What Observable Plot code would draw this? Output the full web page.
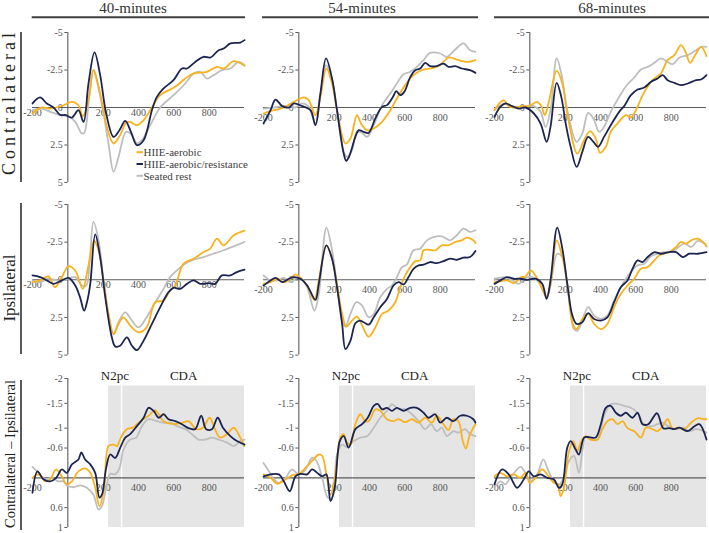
<!DOCTYPE html>
<html><head><meta charset="utf-8">
<script src="https://cdn.jsdelivr.net/npm/d3@7"></script>
<script src="https://cdn.jsdelivr.net/npm/@observablehq/plot@0.6"></script>
<style>
html,body{margin:0;padding:0;background:#fff;}
#root{position:relative;width:709px;height:533px;overflow:hidden;font-family:"Liberation Serif","Times New Roman",serif;}
#root svg{position:absolute;overflow:visible;}
</style></head>
<body><div id="root"></div>
<script>
// ---------- labels ----------
const columns = ["40-minutes", "54-minutes", "68-minutes"];
const rows = ["Contralateral", "Ipsilateral", "Contralateral \u2013 Ipsilateral"];
const conditions = ["HIIE-aerobic", "HIIE-aerobic/resistance", "Seated rest"];
const xTicks = [-200, 200, 400, 600, 800];
const yTicksWave = [-5, -2.5, 0, 2.5, 5];
const yTicksDiff = [-2, -1.5, -1, -0.6, 0.6, 1];
const windowNames = ["N2pc", "CDA"];
const n2pcWindow = [230, 303];
const cdaWindow = [311, 1000];

// ---------- data: [time (ms), amplitude (µV)] ----------
const contra40_aer = [[-200,0.4],[-147,0],[-100,0.07],[-34,-0.1],[23,-0.38],[60,-0.15],[85,0.58],[117,-0.5],[145,-2.5],[174,-1.4],[202,0.18],[221,1.3],[259,2.4],[296,1.84],[330,1.0],[353,0.96],[391,1.18],[429,0.84],[476,0],[523,-0.82],[608,-1.38],[665,-1.93],[712,-2.27],[787,-2.38],[844,-2.71],[882,-2.6],[939,-3.09],[1000,-2.78]];
const contra40_res = [[-200,-0.27],[-157,-0.67],[-119,-0.27],[-81,0],[-43,0.5],[-15,0.5],[23,0.67],[60,0.18],[89,0.96],[117,-1.6],[151,-3.67],[183,-2.16],[217,0.4],[259,1.96],[293,1.5],[325,0.89],[357,1.62],[391,2.51],[429,2.18],[476,0.18],[504,-0.71],[542,-1.27],[598,-1.82],[646,-2.6],[674,-2.6],[721,-3.04],[768,-3.38],[806,-3.33],[854,-3.82],[882,-3.93],[920,-4.27],[976,-4.33],[1000,-4.49]];
const contra40_rest = [[-200,0.18],[-147,0.07],[-100,0.29],[-43,0.5],[4,0.58],[42,0.96],[79,1.73],[93,1.69],[123,-0.93],[145,-2.49],[168,-1.6],[202,0.4],[230,2.4],[259,4.29],[287,3.29],[330,1.62],[363,1.84],[391,2.4],[419,2.18],[466,1.18],[523,0],[598,-0.82],[665,-1.6],[712,-2.27],[750,-2.38],[787,-1.93],[825,-2.16],[872,-2.49],[920,-2.6],[967,-3.04],[1000,-2.82]];

const contra54_aer = [[-200,0.4],[-141,0.18],[-85,0],[-28,-0.38],[28,-0.67],[56,-0.49],[94,0.51],[122,-0.71],[156,-2.6],[188,-1.6],[216,0.18],[264,2.4],[292,2.07],[329,0.51],[352,1.07],[386,1.51],[424,1.4],[471,0.96],[518,0.18],[555,-0.6],[602,-1.49],[649,-2.16],[696,-2.49],[743,-2.6],[800,-2.82],[847,-3.33],[903,-3.16],[950,-3.04],[1000,-3.16]];
const contra54_res = [[-200,1.07],[-160,0.18],[-132,-0.53],[-94,-0.09],[-56,0],[-28,-0.27],[19,-0.09],[66,0.18],[94,1.18],[122,-0.93],[154,-3.27],[188,-1.93],[216,0.18],[254,3.07],[268,3.55],[284,3.29],[320,1.96],[339,1.51],[367,1.62],[395,1.69],[433,0.73],[471,-0.04],[499,-0.16],[533,-0.71],[551,-1.09],[574,-0.82],[597,-1.04],[631,-2.04],[659,-2.49],[687,-2.6],[715,-2.98],[743,-2.76],[781,-2.76],[819,-2.93],[847,-2.71],[885,-2.76],[922,-2.6],[969,-2.49],[1000,-2.31]];
const contra54_rest = [[-200,0.07],[-141,0],[-85,-0.09],[-47,-0.09],[-19,0],[19,-0.27],[56,-0.04],[94,1.07],[122,-0.82],[154,-2.82],[188,-1.82],[216,0.18],[254,2.96],[273,3.29],[301,2.84],[329,1.62],[358,1.69],[386,1.96],[424,1.18],[471,-0.16],[518,-0.93],[555,-1.6],[593,-2.22],[631,-2.38],[668,-2.71],[706,-3.16],[743,-3.64],[800,-3.6],[838,-3.38],[885,-3.87],[932,-4.27],[969,-3.82],[1000,-3.71]];

const contra68_aer = [[-200,0.18],[-176,-0.22],[-148,-0.49],[-119,-0.09],[-81,0],[-44,-0.09],[-6,-0.09],[42,-0.38],[65,-0.1],[85,0.5],[108,-0.4],[152,-2.44],[184,-1.6],[212,0.4],[269,3.07],[307,2.18],[341,1.58],[373,2.07],[398,3.02],[430,2.62],[458,1.62],[496,1.07],[544,0.51],[572,0.67],[600,0.18],[648,-1.04],[695,-1.82],[742,-2.27],[780,-3.16],[818,-3.49],[856,-4.16],[884,-3.64],[907,-2.98],[941,-3.6],[970,-4.04],[1000,-3.42]];
const contra68_res = [[-200,0.62],[-167,-0.04],[-138,-0.27],[-100,-0.09],[-62,0.07],[-25,0],[23,0.4],[61,1.07],[95,2.29],[117,1.29],[152,-1.64],[178,-0.71],[203,1.07],[231,2.62],[265,3.96],[297,2.96],[330,1.96],[360,2.29],[386,2.62],[420,1.96],[458,1.18],[506,0.29],[534,-0.09],[572,-0.82],[610,-1.2],[648,-1.33],[686,-1.71],[723,-1.93],[752,-2.16],[780,-1.82],[818,-1.64],[856,-1.49],[894,-1.6],[941,-1.82],[970,-1.87],[1000,-2.16]];
const contra68_rest = [[-200,0.18],[-176,-0.09],[-138,-0.22],[-100,0],[-62,-0.04],[-25,-0.09],[23,-0.09],[61,0.29],[89,1.29],[117,0.18],[152,-3.27],[178,-2.27],[212,0.18],[265,2.29],[297,1.73],[330,0.36],[360,0.73],[392,1.62],[420,1.29],[458,0.29],[506,-0.71],[544,-1.42],[591,-2.0],[629,-2.53],[667,-2.71],[705,-2.98],[742,-3.27],[780,-3.04],[809,-2.89],[847,-3.33],[894,-3.49],[941,-3.82],[970,-4.04],[1000,-4.04]];

const ipsi40_aer = [[-200,0.16],[-157,0.04],[-110,-0.22],[-72,0.49],[-34,-0.18],[4,-0.91],[42,-0.62],[85,0.6],[111,-0.62],[149,-2.58],[174,-1.96],[202,0.04],[230,2.27],[259,3.6],[287,2.93],[315,2.49],[353,3.04],[400,3.49],[446,3.16],[495,1.49],[542,1.38],[579,0.71],[608,0.38],[655,-1.07],[712,-1.4],[768,-1.84],[806,-2.07],[844,-2.73],[882,-2.29],[939,-2.96],[1000,-3.27]];
const ipsi40_res = [[-200,-0.29],[-157,-0.18],[-119,0.04],[-81,0.27],[-34,0.04],[4,-0.13],[42,0.38],[70,1.2],[92,2.05],[110,1.4],[127,0.27],[155,-3.02],[183,-1.51],[212,1.16],[249,3.82],[268,4.42],[296,4.38],[334,3.82],[363,4.38],[391,4.67],[429,4.04],[476,2.93],[523,1.82],[570,0.82],[598,0.53],[636,0.6],[674,0.27],[712,0.04],[749,0.27],[797,0.22],[834,0.27],[872,-0.29],[920,-0.29],[957,-0.51],[1000,-0.67]];
const ipsi40_rest = [[-200,0.04],[-157,0.16],[-110,-0.07],[-53,0.04],[4,-0.07],[42,-0.18],[79,0.38],[104,0.38],[123,-1.07],[145,-3.84],[174,-2.62],[202,0.04],[230,2.27],[259,3.6],[287,2.82],[325,2.16],[363,2.71],[400,3.16],[446,2.49],[495,1.49],[542,0.6],[579,-0.18],[617,-0.62],[664,-1.07],[712,-1.33],[768,-1.51],[825,-1.73],[882,-1.96],[939,-2.22],[1000,-2.51]];

const ipsi54_aer = [[-200,0.27],[-160,0.16],[-122,-0.07],[-85,0.16],[-47,-0.07],[-19,-0.36],[9,-0.13],[47,0.38],[88,1.33],[113,0.04],[156,-2.29],[188,-1.4],[216,0.27],[245,2.27],[269,3.11],[301,2.71],[329,2.44],[363,3.16],[395,3.78],[433,3.16],[471,2.27],[508,2.04],[546,1.49],[574,0.49],[602,-0.29],[631,-0.84],[659,-1.24],[687,-1.29],[706,-1.96],[734,-2.0],[772,-1.96],[809,-2.29],[847,-2.29],[885,-2.51],[922,-2.62],[951,-2.8],[988,-2.62],[1000,-2.44]];
const ipsi54_res = [[-200,0.38],[-160,0.04],[-132,-0.13],[-94,0.16],[-56,-0.07],[-28,-0.18],[9,-0.07],[47,0.38],[94,1.33],[113,0.27],[156,-2.29],[188,-1.4],[216,0.49],[245,2.93],[264,4.6],[292,4.04],[320,2.89],[344,2.71],[367,2.82],[395,2.98],[424,2.49],[461,1.82],[499,1.27],[536,0.38],[565,0.16],[593,0.31],[621,-0.18],[649,-0.73],[678,-0.96],[706,-1.0],[743,-1.18],[781,-1.11],[819,-1.24],[856,-1.4],[894,-1.33],[932,-1.47],[969,-1.51],[1000,-1.91]];
const ipsi54_rest = [[-200,-0.29],[-160,0.04],[-122,0.04],[-85,-0.13],[-47,0.16],[-19,-0.07],[9,-0.13],[47,0.49],[88,2.04],[113,0.93],[156,-3.47],[188,-1.96],[216,0.38],[245,2.71],[264,3.11],[292,2.27],[326,1.49],[358,1.71],[395,2.49],[424,2.27],[461,1.16],[499,0.6],[527,0.38],[555,-0.18],[584,-0.84],[612,-1.02],[649,-1.96],[687,-2.07],[725,-2.62],[762,-2.84],[809,-2.89],[856,-2.62],[894,-2.96],[932,-3.4],[969,-3.18],[1000,-3.29]];

const ipsi68_aer = [[-200,0.16],[-167,0.09],[-129,0.04],[-91,0.22],[-53,-0.13],[-25,-0.22],[4,-0.62],[32,-0.29],[70,0.6],[95,1.11],[117,0.27],[152,-2.62],[184,-1.51],[212,0.27],[246,3.04],[265,3.27],[297,2.6],[330,2.27],[364,2.93],[402,3.27],[439,2.93],[477,1.82],[515,0.93],[553,0.38],[591,-0.07],[629,-0.73],[667,-0.84],[705,-1.29],[733,-1.62],[771,-1.78],[799,-1.91],[828,-2.18],[856,-2.51],[884,-2.4],[913,-2.62],[951,-2.73],[989,-2.4],[1000,-2.22]];
const ipsi68_res = [[-200,0.27],[-167,0.04],[-129,-0.18],[-91,-0.07],[-53,-0.07],[-15,0],[32,-0.07],[70,0.27],[95,1.27],[117,0.04],[155,-3.47],[184,-2.07],[212,0.27],[241,2.38],[265,2.93],[297,2.82],[330,2.22],[364,2.6],[402,2.71],[439,2.49],[477,1.49],[515,0.49],[553,0.04],[581,-0.73],[610,-1.29],[638,-1.18],[667,-1.51],[705,-1.84],[742,-1.73],[790,-1.84],[828,-1.84],[866,-1.51],[903,-1.73],[951,-1.73],[1000,-1.84]];
const ipsi68_rest = [[-200,-0.07],[-167,-0.13],[-138,-0.18],[-100,0.04],[-62,0.27],[-25,-0.13],[13,-0.18],[51,0.16],[95,1.16],[117,0.38],[155,-1.73],[184,-1.51],[212,0.38],[250,3.27],[269,3.38],[297,2.71],[330,1.82],[364,2.38],[402,2.6],[439,2.38],[477,1.38],[515,0.49],[544,-0.07],[572,-0.51],[610,-0.96],[648,-1.07],[686,-1.56],[723,-1.73],[761,-1.84],[799,-1.84],[837,-2.13],[875,-2.4],[913,-2.18],[951,-2.58],[989,-2.4],[1000,-2.22]];

const diff40_aer = [[-200,0],[-166,-0.07],[-128,0.07],[-100,0.03],[-66,-0.17],[-34,-0.03],[-6,0.13],[23,0.07],[60,-0.13],[98,-0.19],[127,-0.1],[155,0.2],[179,0.57],[206,0.2],[230,-0.64],[259,-0.67],[278,-0.64],[300,-0.81],[334,-0.98],[368,-1.01],[410,-1.14],[457,-1.25],[495,-1.36],[542,-1.14],[598,-1.08],[650,-1.11],[683,-1.14],[727,-0.98],[765,-1.01],[803,-1.21],[835,-0.96],[863,-0.81],[901,-0.88],[939,-1.01],[976,-0.81],[1000,-0.64]];
const diff40_res = [[-200,0.3],[-172,-0.13],[-138,0.03],[-100,0.07],[-66,0],[-34,-0.17],[-6,-0.1],[23,-0.27],[60,-0.37],[76,-0.51],[98,-0.37],[127,-0.27],[155,-0.1],[179,0.4],[193,0.34],[217,-0.2],[240,-0.47],[268,-0.4],[297,-0.61],[325,-0.81],[353,-0.88],[391,-1.04],[429,-1.21],[457,-1.41],[485,-1.35],[514,-1.21],[542,-1.28],[570,-1.18],[608,-1.14],[646,-1.08],[683,-1.0],[721,-0.98],[755,-1.25],[783,-0.98],[816,-0.98],[848,-1.21],[878,-1.01],[920,-0.84],[957,-0.74],[1000,-0.67]];
const diff40_rest = [[-200,-0.22],[-166,-0.1],[-128,0.03],[-91,0],[-53,0.07],[-25,0.07],[-6,0.15],[32,0.19],[70,0.15],[108,0.2],[145,0.34],[174,0.64],[193,0.57],[217,0.2],[240,-0.08],[268,-0.07],[293,-0.2],[315,-0.57],[353,-0.77],[387,-0.81],[419,-1.04],[457,-1.18],[504,-1.14],[542,-1.11],[580,-1.11],[617,-1.04],[665,-0.98],[702,-0.88],[740,-0.77],[778,-0.77],[816,-0.81],[854,-0.77],[901,-0.71],[939,-0.64],[976,-0.74],[1000,-0.77]];

const diff54_aer = [[-200,-0.07],[-160,0],[-122,0.12],[-75,0.03],[-38,-0.05],[0,-0.08],[38,-0.2],[75,-0.34],[113,-0.47],[132,-0.44],[156,-0.07],[179,0.34],[207,-0.07],[235,-0.81],[254,-0.88],[273,-0.71],[292,-0.67],[320,-1.08],[348,-1.28],[376,-1.14],[395,-1.14],[433,-1.38],[461,-1.35],[499,-1.18],[533,-1.14],[565,-1.18],[602,-1.12],[640,-1.18],[678,-1.11],[715,-1.21],[753,-1.11],[781,-1.25],[819,-1.08],[847,-0.96],[875,-1.18],[903,-1.14],[928,-0.74],[945,-0.59],[969,-0.88],[1000,-1.08]];
const diff54_res = [[-200,-0.03],[-160,-0.07],[-113,-0.07],[-85,0.07],[-51,0.27],[-19,-0.03],[9,-0.08],[47,-0.07],[75,-0.17],[104,-0.1],[132,-0.03],[156,-0.07],[179,0.47],[203,0.2],[232,-0.74],[254,-0.84],[282,-0.61],[320,-0.98],[358,-1.08],[390,-1.21],[424,-1.45],[446,-1.49],[471,-1.38],[499,-1.41],[527,-1.35],[555,-1.41],[593,-1.35],[631,-1.41],[668,-1.41],[706,-1.31],[734,-1.21],[772,-1.28],[800,-1.11],[838,-1.21],[875,-1.14],[913,-1.25],[951,-1.25],[988,-1.18],[1000,-1.11]];
const diff54_rest = [[-200,-0.3],[-169,-0.13],[-141,0.03],[-113,0.1],[-75,0],[-38,-0.17],[0,-0.07],[38,-0.17],[75,-0.4],[100,-0.34],[132,0],[164,0.4],[188,0.4],[216,-0.47],[245,-0.67],[273,-0.62],[311,-0.74],[348,-0.81],[386,-0.84],[424,-1.01],[461,-1.21],[499,-1.35],[527,-1.48],[565,-1.38],[602,-1.38],[640,-1.28],[678,-1.14],[715,-0.98],[747,-1.08],[781,-0.94],[809,-1.01],[838,-0.84],[875,-0.94],[903,-0.91],[941,-0.98],[969,-0.88],[1000,-0.84]];

const diff68_aer = [[-200,-0.03],[-167,-0.1],[-129,-0.03],[-91,-0.07],[-53,0],[-25,-0.1],[0,0.1],[32,0],[70,-0.17],[98,-0.07],[136,0.1],[159,0.13],[174,0.37],[193,0.2],[222,-0.54],[246,-0.74],[269,-0.54],[292,-0.74],[316,-0.84],[345,-0.77],[383,-0.77],[411,-0.98],[439,-1.14],[468,-1.18],[496,-1.08],[525,-1.14],[553,-1.0],[591,-0.94],[629,-0.81],[657,-1.01],[695,-0.98],[723,-0.94],[752,-1.04],[780,-1.18],[809,-0.98],[837,-1.01],[875,-0.98],[913,-1.11],[951,-1.2],[989,-1.18],[1000,-1.18]];
const diff68_res = [[-200,0.13],[-157,-0.17],[-119,-0.07],[-72,0.2],[-34,0.03],[-6,-0.13],[23,-0.03],[61,-0.07],[98,0],[136,0.03],[165,0.2],[184,0.13],[212,-0.61],[231,-0.74],[259,-0.57],[278,-0.47],[307,-0.81],[335,-0.82],[373,-0.81],[402,-1.08],[430,-1.41],[458,-1.45],[487,-1.31],[515,-1.25],[544,-1.31],[581,-1.21],[610,-1.31],[638,-1.08],[670,-1.08],[720,-1.3],[755,-1.0],[790,-1.0],[818,-0.98],[847,-1.01],[894,-0.94],[932,-1.04],[960,-1.08],[1000,-0.77]];
const diff68_rest = [[-200,0.2],[-167,0.07],[-138,0.13],[-110,0],[-53,-0.22],[-25,-0.1],[4,0.07],[42,-0.07],[76,-0.37],[102,-0.17],[136,0.07],[165,0.13],[193,0],[222,-0.34],[250,-0.44],[278,-0.1],[297,-0.54],[316,-0.84],[345,-0.77],[383,-0.77],[420,-1.25],[458,-1.48],[496,-1.49],[534,-1.45],[572,-1.41],[610,-1.31],[638,-1.11],[667,-1.04],[695,-1.04],[723,-1.08],[752,-1.11],[790,-1.02],[828,-0.98],[866,-1.01],[903,-0.94],[941,-0.98],[970,-0.96],[1000,-0.91]];

// ---------- layout / style ----------
const colors = ["#F7B21E", "#1C2552", "#BEBEBE"];   // aerobic, aerobic/resistance, rest
const drawOrder = [2, 0, 1];
const panels = [
  [[contra40_aer, contra40_res, contra40_rest], [contra54_aer, contra54_res, contra54_rest], [contra68_aer, contra68_res, contra68_rest]],
  [[ipsi40_aer, ipsi40_res, ipsi40_rest], [ipsi54_aer, ipsi54_res, ipsi54_rest], [ipsi68_aer, ipsi68_res, ipsi68_rest]],
  [[diff40_aer, diff40_res, diff40_rest], [diff54_aer, diff54_res, diff54_rest], [diff68_aer, diff68_res, diff68_rest]]
];
const colX = [32.4, 262.9, 494.0];
const colW = 212;
const rowY = [32.3, 204.0, 377.7];
const rowH = [150, 150.6, 149];
const yDomains = [[-5, 5], [-5, 5], [-2, 1]];
const shadeTop = -1.85;
const FONT = '"Liberation Serif","Times New Roman",serif';
const AX = "#5b5b5b";

const root = document.getElementById("root");

function makePanel(r, c) {
  const mL = 24, mR = 10, mT = 16, mB = 18;
  const isDiff = r === 2;
  const yTicks = isDiff ? yTicksDiff : yTicksWave;
  const [y0, y1] = yDomains[r];
  const marks = [];
  if (isDiff) {
    const wins = [{a: n2pcWindow[0], b: n2pcWindow[1], name: windowNames[0]},
                  {a: cdaWindow[0], b: cdaWindow[1], name: windowNames[1]}];
    marks.push(Plot.rect(wins, {x1: "a", x2: "b", y1: shadeTop, y2: y1, fill: "#E5E5E5"}));
    marks.push(Plot.text(wins, {x: d => (d.a + d.b) / 2, y: y0, text: "name", dy: -3,
      fontSize: 13, fill: "#222", fontFamily: FONT}));
  }
  marks.push(Plot.ruleY([0], {x1: -200, x2: 1000, stroke: AX, strokeWidth: 1.1}));
  marks.push(Plot.ruleX([0], {y1: y0, y2: y1, stroke: AX, strokeWidth: 1.1}));
  marks.push(Plot.ruleY(yTicks, {x1: -17, x2: 0, stroke: AX, strokeWidth: 1}));
  marks.push(Plot.text(yTicks, {x: 0, y: d => d, text: d => String(d), textAnchor: "end", dx: -5,
    fontSize: 10, fill: "#555", fontFamily: FONT}));
  marks.push(Plot.text(xTicks, {x: d => d, y: 0, text: d => String(d),
    dy: (c === 0 && r < 2) ? 5 : 10, fontSize: 10, fill: "#555", fontFamily: FONT}));
  for (const k of drawOrder) {
    marks.push(Plot.line(panels[r][c][k], {x: d => d[0], y: d => d[1], stroke: colors[k],
      strokeWidth: 1.8, curve: "catmull-rom"}));
  }
  const svg = Plot.plot({
    width: mL + colW + mR, height: mT + rowH[r] + mB,
    marginLeft: mL, marginRight: mR, marginTop: mT, marginBottom: mB,
    x: {domain: [-200, 1000], range: [mL, mL + colW], axis: null},
    y: {domain: [y0, y1], range: [mT, mT + rowH[r]], axis: null},
    style: {fontFamily: FONT, background: "transparent", overflow: "visible"},
    marks
  });
  svg.style.left = (colX[c] - mL) + "px";
  svg.style.top = (rowY[r] - mT) + "px";
  root.appendChild(svg);
}
for (let r = 0; r < 3; r++) for (let c = 0; c < 3; c++) makePanel(r, c);

// ---------- titles, row labels, legend ----------
const ov = d3.select(root).append("svg").attr("width", 709).attr("height", 533)
  .style("left", "0px").style("top", "0px").style("pointer-events", "none");
const titleX = [133, 362, 612];
const titleLine = [[31.7, 245], [262, 478], [494, 709]];
columns.forEach((t, i) => {
  ov.append("text").attr("x", titleX[i]).attr("y", 13.3).attr("text-anchor", "middle")
    .attr("font-family", FONT).attr("font-size", 15).attr("fill", "#333").text(t);
  ov.append("line").attr("x1", titleLine[i][0]).attr("x2", titleLine[i][1])
    .attr("y1", 17.3).attr("y2", 17.3).attr("stroke", "#404040").attr("stroke-width", 2);
});
const rowLabelCenter = [104, 288, 454];
const rowLabelLen = [142, 67, 148];
const rowLabelSize = [18, 17, 15];
const rowLabelAdjust = ["spacing", "spacing", "spacingAndGlyphs"];
const rowLine = [[32, 182], [203, 354], [380, 530]];
rows.forEach((t, i) => {
  ov.append("text").attr("transform", `translate(15,${rowLabelCenter[i]}) rotate(-90)`)
    .attr("text-anchor", "middle").attr("font-family", FONT).attr("font-size", rowLabelSize[i])
    .attr("fill", "#222").attr("textLength", rowLabelLen[i]).attr("lengthAdjust", rowLabelAdjust[i])
    .text(t);
  ov.append("line").attr("x1", 21).attr("x2", 21).attr("y1", rowLine[i][0]).attr("y2", rowLine[i][1])
    .attr("stroke", "#222").attr("stroke-width", 1.5);
});
const legY = [152.2, 164, 175.8];
conditions.forEach((name, i) => {
  ov.append("line").attr("x1", 136.5).attr("x2", 143).attr("y1", legY[i]).attr("y2", legY[i])
    .attr("stroke", colors[i]).attr("stroke-width", 2);
  ov.append("text").attr("x", 143.5).attr("y", legY[i]).attr("dy", "0.35em")
    .attr("font-family", FONT).attr("font-size", 11).attr("fill", "#404040").text(name);
});
</script>
</body></html>
